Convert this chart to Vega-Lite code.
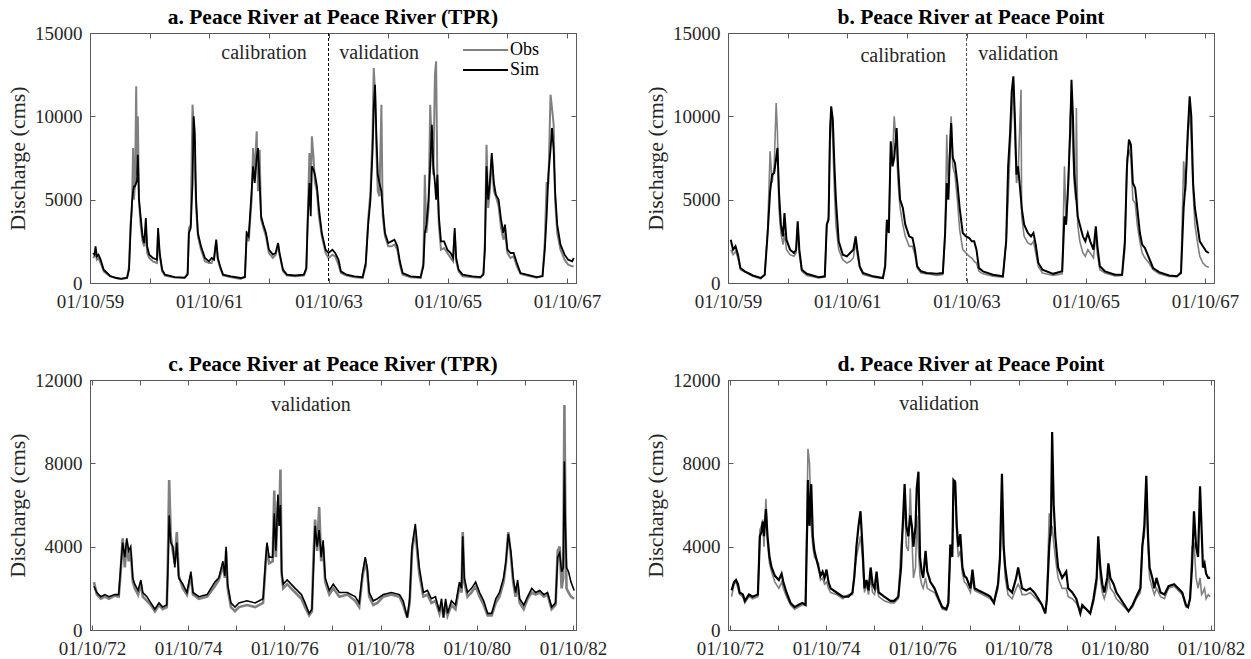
{
  "$schema": "https://vega.github.io/schema/vega-lite/v6.json",
  "background": "white",
  "padding": {"left": 6, "top": 6, "right": 5, "bottom": 5},
  "columns": 2,
  "spacing": {"row": 97, "column": 152},
  "bounds": "flush",
  "config": {
    "font": "Liberation Serif",
    "view": {"stroke": "#595959", "strokeWidth": 1},
    "axis": {
      "labelFont": "Liberation Serif", "labelFontSize": 19, "labelColor": "#262626",
      "titleFont": "Liberation Serif", "titleFontSize": 22, "titleFontWeight": "normal", "titleColor": "#262626",
      "grid": false, "domainColor": "#595959", "tickColor": "#595959", "tickSize": -5, "labelPadding": 13,
      "labelFlush": false, "labelOverlap": false, "labelBound": false, "titlePadding": 5
    },
    "axisBottom": {"labelPadding": 14},
    "title": {"font": "Liberation Serif", "fontSize": 21.5, "fontWeight": "bold", "color": "#000000", "offset": -4},
    "legend": {
      "orient": "none", "title": null, "symbolType": "M-1,0H8", "symbolSize": 100, "symbolStrokeWidth": 2,
      "labelFont": "Liberation Serif", "labelFontSize": 18, "labelColor": "#000000", "rowPadding": 2, "labelOffset": 33, "padding": 0
    }
  },
  "datasets": {
    "a": [
      {"d": "1959-10-20", "Obs": 1500, "Sim": 1800},
      {"d": "1959-10-28", "Obs": 1600, "Sim": 1700},
      {"d": "1959-11-04", "Obs": 1900, "Sim": 2200},
      {"d": "1959-11-12", "Obs": 1400, "Sim": 1600},
      {"d": "1959-11-22", "Obs": 1500, "Sim": 1700},
      {"d": "1959-12-05", "Obs": 1200, "Sim": 1400},
      {"d": "1959-12-24", "Obs": 700, "Sim": 800},
      {"d": "1960-02-01", "Obs": 400, "Sim": 420},
      {"d": "1960-03-10", "Obs": 300, "Sim": 300},
      {"d": "1960-04-09", "Obs": 250, "Sim": 250},
      {"d": "1960-05-15", "Obs": 300, "Sim": 320},
      {"d": "1960-05-27", "Obs": 1000, "Sim": 800},
      {"d": "1960-06-05", "Obs": 3500, "Sim": 3000},
      {"d": "1960-06-14", "Obs": 4500, "Sim": 4800},
      {"d": "1960-06-21", "Obs": 8100, "Sim": 5500},
      {"d": "1960-06-26", "Obs": 5000, "Sim": 5800},
      {"d": "1960-07-03", "Obs": 6000, "Sim": 5800},
      {"d": "1960-07-10", "Obs": 11800, "Sim": 6000},
      {"d": "1960-07-15", "Obs": 6500, "Sim": 6200},
      {"d": "1960-07-20", "Obs": 10000, "Sim": 7700},
      {"d": "1960-07-27", "Obs": 5000, "Sim": 5000},
      {"d": "1960-08-06", "Obs": 3500, "Sim": 4000},
      {"d": "1960-08-18", "Obs": 2500, "Sim": 2800},
      {"d": "1960-08-28", "Obs": 2200, "Sim": 2400},
      {"d": "1960-09-07", "Obs": 3200, "Sim": 3900},
      {"d": "1960-09-15", "Obs": 1800, "Sim": 2200},
      {"d": "1960-09-28", "Obs": 1500, "Sim": 1700},
      {"d": "1960-10-20", "Obs": 1300, "Sim": 1500},
      {"d": "1960-11-14", "Obs": 1200, "Sim": 1400},
      {"d": "1960-11-21", "Obs": 3000, "Sim": 3300},
      {"d": "1960-12-01", "Obs": 1600, "Sim": 1800},
      {"d": "1960-12-16", "Obs": 700, "Sim": 800},
      {"d": "1961-01-02", "Obs": 450, "Sim": 500},
      {"d": "1961-03-03", "Obs": 330, "Sim": 350},
      {"d": "1961-05-03", "Obs": 300, "Sim": 320},
      {"d": "1961-05-21", "Obs": 600, "Sim": 500},
      {"d": "1961-05-29", "Obs": 3300, "Sim": 3000},
      {"d": "1961-06-09", "Obs": 3500, "Sim": 3300},
      {"d": "1961-06-20", "Obs": 10700, "Sim": 6000},
      {"d": "1961-06-27", "Obs": 9500, "Sim": 10000},
      {"d": "1961-07-04", "Obs": 7000, "Sim": 9000},
      {"d": "1961-07-12", "Obs": 4500, "Sim": 5000},
      {"d": "1961-07-23", "Obs": 2800, "Sim": 3000},
      {"d": "1961-08-11", "Obs": 2000, "Sim": 2200},
      {"d": "1961-09-04", "Obs": 1300, "Sim": 1500},
      {"d": "1961-09-29", "Obs": 1200, "Sim": 1300},
      {"d": "1961-10-15", "Obs": 1200, "Sim": 1500},
      {"d": "1961-10-30", "Obs": 1600, "Sim": 1400},
      {"d": "1961-11-12", "Obs": 2500, "Sim": 2600},
      {"d": "1961-11-22", "Obs": 1400, "Sim": 1500},
      {"d": "1961-12-06", "Obs": 900, "Sim": 1000},
      {"d": "1961-12-24", "Obs": 450, "Sim": 500},
      {"d": "1962-02-10", "Obs": 350, "Sim": 400},
      {"d": "1962-04-12", "Obs": 250, "Sim": 300},
      {"d": "1962-05-07", "Obs": 400, "Sim": 350},
      {"d": "1962-05-18", "Obs": 3100, "Sim": 3000},
      {"d": "1962-05-30", "Obs": 2500, "Sim": 2800},
      {"d": "1962-06-17", "Obs": 5000, "Sim": 5500},
      {"d": "1962-06-26", "Obs": 8100, "Sim": 7000},
      {"d": "1962-07-06", "Obs": 6500, "Sim": 6000},
      {"d": "1962-07-18", "Obs": 9100, "Sim": 7500},
      {"d": "1962-07-26", "Obs": 5500, "Sim": 8100},
      {"d": "1962-08-05", "Obs": 8000, "Sim": 6000},
      {"d": "1962-08-14", "Obs": 3800, "Sim": 4000},
      {"d": "1962-08-28", "Obs": 3300, "Sim": 3500},
      {"d": "1962-09-13", "Obs": 2800, "Sim": 3000},
      {"d": "1962-10-01", "Obs": 1800, "Sim": 2000},
      {"d": "1962-10-25", "Obs": 1500, "Sim": 1700},
      {"d": "1962-11-11", "Obs": 1700, "Sim": 1800},
      {"d": "1962-11-26", "Obs": 2300, "Sim": 2400},
      {"d": "1962-12-05", "Obs": 1700, "Sim": 1800},
      {"d": "1962-12-26", "Obs": 700, "Sim": 800},
      {"d": "1963-01-19", "Obs": 450, "Sim": 500},
      {"d": "1963-03-10", "Obs": 400, "Sim": 450},
      {"d": "1963-05-03", "Obs": 450, "Sim": 500},
      {"d": "1963-05-18", "Obs": 800, "Sim": 900},
      {"d": "1963-05-27", "Obs": 4000, "Sim": 3800},
      {"d": "1963-06-06", "Obs": 7800, "Sim": 6000},
      {"d": "1963-06-14", "Obs": 5000, "Sim": 4000},
      {"d": "1963-06-21", "Obs": 8800, "Sim": 7000},
      {"d": "1963-07-01", "Obs": 7600, "Sim": 6800},
      {"d": "1963-07-10", "Obs": 6000, "Sim": 6500},
      {"d": "1963-07-22", "Obs": 5500, "Sim": 5800},
      {"d": "1963-08-03", "Obs": 4000, "Sim": 4500},
      {"d": "1963-08-21", "Obs": 2800, "Sim": 3000},
      {"d": "1963-09-13", "Obs": 1800, "Sim": 2000},
      {"d": "1963-10-01", "Obs": 1500, "Sim": 1800},
      {"d": "1963-10-25", "Obs": 1700, "Sim": 2000},
      {"d": "1963-11-11", "Obs": 1600, "Sim": 1800},
      {"d": "1963-12-01", "Obs": 1100, "Sim": 1400},
      {"d": "1963-12-16", "Obs": 600, "Sim": 700},
      {"d": "1964-01-19", "Obs": 450, "Sim": 500},
      {"d": "1964-03-08", "Obs": 350, "Sim": 400},
      {"d": "1964-04-27", "Obs": 300, "Sim": 350},
      {"d": "1964-05-16", "Obs": 1000, "Sim": 1200},
      {"d": "1964-05-31", "Obs": 3800, "Sim": 3500},
      {"d": "1964-06-14", "Obs": 5500, "Sim": 5000},
      {"d": "1964-06-27", "Obs": 9000, "Sim": 8000},
      {"d": "1964-07-04", "Obs": 12900, "Sim": 10500},
      {"d": "1964-07-12", "Obs": 11500, "Sim": 11900},
      {"d": "1964-07-20", "Obs": 8000, "Sim": 9000},
      {"d": "1964-07-29", "Obs": 5500, "Sim": 6500},
      {"d": "1964-08-08", "Obs": 5200, "Sim": 6000},
      {"d": "1964-08-20", "Obs": 10700, "Sim": 5500},
      {"d": "1964-08-28", "Obs": 4000, "Sim": 4500},
      {"d": "1964-09-11", "Obs": 2800, "Sim": 3000},
      {"d": "1964-10-01", "Obs": 2200, "Sim": 2400},
      {"d": "1964-10-20", "Obs": 2200, "Sim": 2500},
      {"d": "1964-11-08", "Obs": 2300, "Sim": 2600},
      {"d": "1964-11-26", "Obs": 2000, "Sim": 2200},
      {"d": "1964-12-11", "Obs": 1100, "Sim": 1300},
      {"d": "1964-12-28", "Obs": 500, "Sim": 600},
      {"d": "1965-02-15", "Obs": 350, "Sim": 400},
      {"d": "1965-04-17", "Obs": 300, "Sim": 350},
      {"d": "1965-05-04", "Obs": 1200, "Sim": 1000},
      {"d": "1965-05-13", "Obs": 6500, "Sim": 3000},
      {"d": "1965-05-23", "Obs": 3000, "Sim": 3500},
      {"d": "1965-06-05", "Obs": 4500, "Sim": 5000},
      {"d": "1965-06-15", "Obs": 10700, "Sim": 7000},
      {"d": "1965-06-25", "Obs": 8000, "Sim": 9500},
      {"d": "1965-07-04", "Obs": 6500, "Sim": 7000},
      {"d": "1965-07-14", "Obs": 12500, "Sim": 6000},
      {"d": "1965-07-21", "Obs": 13300, "Sim": 5000},
      {"d": "1965-07-29", "Obs": 6000, "Sim": 6500},
      {"d": "1965-08-07", "Obs": 3500, "Sim": 4000},
      {"d": "1965-08-20", "Obs": 2000, "Sim": 2500},
      {"d": "1965-09-08", "Obs": 2100, "Sim": 2500},
      {"d": "1965-09-28", "Obs": 1800, "Sim": 2000},
      {"d": "1965-10-18", "Obs": 1500, "Sim": 1800},
      {"d": "1965-11-02", "Obs": 1300, "Sim": 1500},
      {"d": "1965-11-12", "Obs": 3000, "Sim": 3300},
      {"d": "1965-11-21", "Obs": 1300, "Sim": 1500},
      {"d": "1965-12-06", "Obs": 700, "Sim": 800},
      {"d": "1965-12-30", "Obs": 400, "Sim": 500},
      {"d": "1966-03-01", "Obs": 350, "Sim": 400},
      {"d": "1966-04-19", "Obs": 320, "Sim": 350},
      {"d": "1966-05-07", "Obs": 600, "Sim": 500},
      {"d": "1966-05-16", "Obs": 2500, "Sim": 2000},
      {"d": "1966-05-26", "Obs": 8300, "Sim": 7000},
      {"d": "1966-06-05", "Obs": 4500, "Sim": 5000},
      {"d": "1966-06-15", "Obs": 5500, "Sim": 6000},
      {"d": "1966-06-27", "Obs": 7500, "Sim": 7800},
      {"d": "1966-07-10", "Obs": 5500, "Sim": 6000},
      {"d": "1966-07-22", "Obs": 5200, "Sim": 5300},
      {"d": "1966-08-08", "Obs": 4600, "Sim": 5000},
      {"d": "1966-08-23", "Obs": 3300, "Sim": 3800},
      {"d": "1966-09-06", "Obs": 2600, "Sim": 3000},
      {"d": "1966-09-16", "Obs": 3000, "Sim": 3500},
      {"d": "1966-10-01", "Obs": 1800, "Sim": 2000},
      {"d": "1966-10-20", "Obs": 1500, "Sim": 1800},
      {"d": "1966-11-08", "Obs": 1600, "Sim": 1800},
      {"d": "1966-11-28", "Obs": 1000, "Sim": 1200},
      {"d": "1966-12-20", "Obs": 550, "Sim": 600},
      {"d": "1967-01-27", "Obs": 450, "Sim": 500},
      {"d": "1967-03-29", "Obs": 320, "Sim": 350},
      {"d": "1967-05-04", "Obs": 450, "Sim": 400},
      {"d": "1967-05-18", "Obs": 2500, "Sim": 2000},
      {"d": "1967-05-29", "Obs": 6000, "Sim": 4000},
      {"d": "1967-06-09", "Obs": 6000, "Sim": 6500},
      {"d": "1967-06-22", "Obs": 11300, "Sim": 8000},
      {"d": "1967-07-01", "Obs": 10500, "Sim": 9300},
      {"d": "1967-07-11", "Obs": 9500, "Sim": 8000},
      {"d": "1967-07-20", "Obs": 5000, "Sim": 5500},
      {"d": "1967-08-02", "Obs": 3000, "Sim": 3500},
      {"d": "1967-08-22", "Obs": 2000, "Sim": 2300},
      {"d": "1967-09-16", "Obs": 1400, "Sim": 1700},
      {"d": "1967-10-08", "Obs": 1100, "Sim": 1400},
      {"d": "1967-11-02", "Obs": 1000, "Sim": 1300},
      {"d": "1967-11-11", "Obs": 1000, "Sim": 1500}
    ],
    "b": [
      {"d": "1959-10-18", "Obs": 2000, "Sim": 2600},
      {"d": "1959-11-01", "Obs": 1700, "Sim": 2000},
      {"d": "1959-11-16", "Obs": 1900, "Sim": 2200},
      {"d": "1959-12-01", "Obs": 1500, "Sim": 1700},
      {"d": "1959-12-16", "Obs": 800, "Sim": 900},
      {"d": "1960-01-12", "Obs": 650, "Sim": 700},
      {"d": "1960-03-01", "Obs": 400, "Sim": 450},
      {"d": "1960-04-19", "Obs": 250, "Sim": 300},
      {"d": "1960-05-13", "Obs": 500, "Sim": 500},
      {"d": "1960-05-31", "Obs": 3200, "Sim": 3000},
      {"d": "1960-06-15", "Obs": 7900, "Sim": 5500},
      {"d": "1960-06-27", "Obs": 6000, "Sim": 6500},
      {"d": "1960-07-10", "Obs": 7000, "Sim": 6600},
      {"d": "1960-07-22", "Obs": 10800, "Sim": 7500},
      {"d": "1960-07-30", "Obs": 9000, "Sim": 8100},
      {"d": "1960-08-08", "Obs": 4500, "Sim": 5500},
      {"d": "1960-08-20", "Obs": 3000, "Sim": 3500},
      {"d": "1960-09-02", "Obs": 2300, "Sim": 2800},
      {"d": "1960-09-11", "Obs": 3000, "Sim": 4200},
      {"d": "1960-09-23", "Obs": 2000, "Sim": 2600},
      {"d": "1960-10-15", "Obs": 1700, "Sim": 2000},
      {"d": "1960-11-08", "Obs": 1600, "Sim": 1800},
      {"d": "1960-11-21", "Obs": 1800, "Sim": 2000},
      {"d": "1960-12-01", "Obs": 3500, "Sim": 3700},
      {"d": "1960-12-11", "Obs": 1700, "Sim": 2000},
      {"d": "1960-12-26", "Obs": 700, "Sim": 800},
      {"d": "1961-01-26", "Obs": 450, "Sim": 550},
      {"d": "1961-04-09", "Obs": 300, "Sim": 350},
      {"d": "1961-05-16", "Obs": 350, "Sim": 400},
      {"d": "1961-05-28", "Obs": 3500, "Sim": 3500},
      {"d": "1961-06-08", "Obs": 4000, "Sim": 3800},
      {"d": "1961-06-17", "Obs": 9500, "Sim": 9000},
      {"d": "1961-06-24", "Obs": 10000, "Sim": 10600},
      {"d": "1961-07-04", "Obs": 8500, "Sim": 9800},
      {"d": "1961-07-14", "Obs": 5500, "Sim": 7000},
      {"d": "1961-07-23", "Obs": 3500, "Sim": 5000},
      {"d": "1961-08-09", "Obs": 2000, "Sim": 2500},
      {"d": "1961-09-03", "Obs": 1400, "Sim": 1700},
      {"d": "1961-09-28", "Obs": 1200, "Sim": 1600},
      {"d": "1961-10-18", "Obs": 1300, "Sim": 1800},
      {"d": "1961-11-07", "Obs": 1500, "Sim": 2000},
      {"d": "1961-11-21", "Obs": 2500, "Sim": 2800},
      {"d": "1961-12-01", "Obs": 1700, "Sim": 2000},
      {"d": "1961-12-16", "Obs": 900, "Sim": 1000},
      {"d": "1962-01-05", "Obs": 500, "Sim": 600},
      {"d": "1962-03-08", "Obs": 350, "Sim": 400},
      {"d": "1962-05-07", "Obs": 280, "Sim": 300},
      {"d": "1962-05-21", "Obs": 1200, "Sim": 1000},
      {"d": "1962-05-31", "Obs": 3500, "Sim": 3800},
      {"d": "1962-06-12", "Obs": 3500, "Sim": 3000},
      {"d": "1962-06-24", "Obs": 8000, "Sim": 8500},
      {"d": "1962-07-05", "Obs": 7500, "Sim": 7000},
      {"d": "1962-07-15", "Obs": 10000, "Sim": 7500},
      {"d": "1962-07-30", "Obs": 8000, "Sim": 9300},
      {"d": "1962-08-08", "Obs": 6000, "Sim": 7000},
      {"d": "1962-08-20", "Obs": 4500, "Sim": 5000},
      {"d": "1962-09-06", "Obs": 3500, "Sim": 4500},
      {"d": "1962-09-21", "Obs": 2800, "Sim": 3500},
      {"d": "1962-10-15", "Obs": 2200, "Sim": 2800},
      {"d": "1962-11-04", "Obs": 2200, "Sim": 2700},
      {"d": "1962-11-19", "Obs": 1700, "Sim": 2000},
      {"d": "1962-12-03", "Obs": 900, "Sim": 1000},
      {"d": "1962-12-26", "Obs": 600, "Sim": 700},
      {"d": "1963-02-01", "Obs": 550, "Sim": 600},
      {"d": "1963-04-02", "Obs": 450, "Sim": 550},
      {"d": "1963-05-09", "Obs": 500, "Sim": 600},
      {"d": "1963-05-23", "Obs": 3000, "Sim": 3000},
      {"d": "1963-06-02", "Obs": 8900, "Sim": 6000},
      {"d": "1963-06-12", "Obs": 5500, "Sim": 5000},
      {"d": "1963-06-22", "Obs": 8500, "Sim": 8000},
      {"d": "1963-06-29", "Obs": 10000, "Sim": 9600},
      {"d": "1963-07-09", "Obs": 7000, "Sim": 7500},
      {"d": "1963-07-22", "Obs": 6500, "Sim": 7200},
      {"d": "1963-08-06", "Obs": 5000, "Sim": 6000},
      {"d": "1963-08-20", "Obs": 3200, "Sim": 4500},
      {"d": "1963-09-08", "Obs": 2000, "Sim": 3000},
      {"d": "1963-09-28", "Obs": 1800, "Sim": 2800},
      {"d": "1963-10-18", "Obs": 1600, "Sim": 2700},
      {"d": "1963-11-02", "Obs": 1500, "Sim": 2500},
      {"d": "1963-11-17", "Obs": 1300, "Sim": 2500},
      {"d": "1963-12-01", "Obs": 1200, "Sim": 2000},
      {"d": "1963-12-16", "Obs": 700, "Sim": 900},
      {"d": "1964-01-10", "Obs": 550, "Sim": 700},
      {"d": "1964-03-11", "Obs": 400, "Sim": 500},
      {"d": "1964-05-11", "Obs": 350, "Sim": 400},
      {"d": "1964-05-31", "Obs": 2500, "Sim": 2500},
      {"d": "1964-06-12", "Obs": 5000, "Sim": 7000},
      {"d": "1964-06-24", "Obs": 8000, "Sim": 9000},
      {"d": "1964-07-04", "Obs": 10000, "Sim": 11500},
      {"d": "1964-07-14", "Obs": 12000, "Sim": 12400},
      {"d": "1964-07-23", "Obs": 9000, "Sim": 10000},
      {"d": "1964-08-02", "Obs": 6000, "Sim": 6500},
      {"d": "1964-08-12", "Obs": 6500, "Sim": 7000},
      {"d": "1964-08-30", "Obs": 11600, "Sim": 5000},
      {"d": "1964-09-03", "Obs": 4000, "Sim": 4500},
      {"d": "1964-09-18", "Obs": 2800, "Sim": 3500},
      {"d": "1964-10-11", "Obs": 2400, "Sim": 3000},
      {"d": "1964-10-30", "Obs": 2300, "Sim": 2800},
      {"d": "1964-11-14", "Obs": 2500, "Sim": 3000},
      {"d": "1964-11-28", "Obs": 1800, "Sim": 2300},
      {"d": "1964-12-14", "Obs": 1000, "Sim": 1200},
      {"d": "1965-01-08", "Obs": 600, "Sim": 800},
      {"d": "1965-03-15", "Obs": 450, "Sim": 550},
      {"d": "1965-05-09", "Obs": 550, "Sim": 700},
      {"d": "1965-05-23", "Obs": 7000, "Sim": 4000},
      {"d": "1965-06-02", "Obs": 3500, "Sim": 3500},
      {"d": "1965-06-15", "Obs": 5500, "Sim": 6000},
      {"d": "1965-06-27", "Obs": 10000, "Sim": 9000},
      {"d": "1965-07-05", "Obs": 11000, "Sim": 12200},
      {"d": "1965-07-14", "Obs": 8000, "Sim": 10000},
      {"d": "1965-07-22", "Obs": 6000, "Sim": 6500},
      {"d": "1965-07-31", "Obs": 5000, "Sim": 5500},
      {"d": "1965-08-04", "Obs": 10500, "Sim": 5000},
      {"d": "1965-08-12", "Obs": 3500, "Sim": 4000},
      {"d": "1965-08-25", "Obs": 2500, "Sim": 3500},
      {"d": "1965-09-13", "Obs": 1800, "Sim": 2800},
      {"d": "1965-09-28", "Obs": 1600, "Sim": 2500},
      {"d": "1965-10-13", "Obs": 2000, "Sim": 3000},
      {"d": "1965-10-28", "Obs": 1800, "Sim": 2500},
      {"d": "1965-11-17", "Obs": 1500, "Sim": 2000},
      {"d": "1965-12-01", "Obs": 3000, "Sim": 3400},
      {"d": "1965-12-11", "Obs": 1700, "Sim": 2200},
      {"d": "1965-12-26", "Obs": 800, "Sim": 1000},
      {"d": "1966-01-26", "Obs": 600, "Sim": 700},
      {"d": "1966-03-29", "Obs": 420, "Sim": 500},
      {"d": "1966-05-11", "Obs": 450, "Sim": 500},
      {"d": "1966-05-28", "Obs": 2000, "Sim": 2500},
      {"d": "1966-06-10", "Obs": 7500, "Sim": 7000},
      {"d": "1966-06-22", "Obs": 8000, "Sim": 8600},
      {"d": "1966-07-04", "Obs": 7500, "Sim": 8300},
      {"d": "1966-07-16", "Obs": 5000, "Sim": 6000},
      {"d": "1966-07-30", "Obs": 4800, "Sim": 5700},
      {"d": "1966-08-12", "Obs": 3500, "Sim": 4500},
      {"d": "1966-08-28", "Obs": 2500, "Sim": 3000},
      {"d": "1966-09-11", "Obs": 1800, "Sim": 2300},
      {"d": "1966-09-28", "Obs": 1500, "Sim": 2100},
      {"d": "1966-10-23", "Obs": 1200, "Sim": 1500},
      {"d": "1966-11-17", "Obs": 800, "Sim": 900},
      {"d": "1966-12-24", "Obs": 550, "Sim": 650},
      {"d": "1967-02-23", "Obs": 400, "Sim": 450},
      {"d": "1967-04-12", "Obs": 380, "Sim": 400},
      {"d": "1967-05-07", "Obs": 700, "Sim": 600},
      {"d": "1967-05-23", "Obs": 7300, "Sim": 4500},
      {"d": "1967-06-04", "Obs": 5500, "Sim": 6000},
      {"d": "1967-06-17", "Obs": 8500, "Sim": 9000},
      {"d": "1967-06-29", "Obs": 10500, "Sim": 11200},
      {"d": "1967-07-09", "Obs": 8500, "Sim": 10000},
      {"d": "1967-07-20", "Obs": 5500, "Sim": 6000},
      {"d": "1967-07-31", "Obs": 3500, "Sim": 4500},
      {"d": "1967-08-15", "Obs": 2500, "Sim": 3500},
      {"d": "1967-08-30", "Obs": 1600, "Sim": 2500},
      {"d": "1967-09-18", "Obs": 1200, "Sim": 2200},
      {"d": "1967-10-08", "Obs": 1000, "Sim": 1900},
      {"d": "1967-10-25", "Obs": 950, "Sim": 1800}
    ],
    "c": [
      {"d": "1972-10-16", "Obs": 2300, "Sim": 2100},
      {"d": "1972-11-07", "Obs": 1700, "Sim": 1800},
      {"d": "1972-12-07", "Obs": 1500, "Sim": 1600},
      {"d": "1973-01-07", "Obs": 1600, "Sim": 1700},
      {"d": "1973-02-07", "Obs": 1500, "Sim": 1600},
      {"d": "1973-03-22", "Obs": 1650, "Sim": 1700},
      {"d": "1973-04-22", "Obs": 1600, "Sim": 1700},
      {"d": "1973-05-07", "Obs": 2800, "Sim": 3000},
      {"d": "1973-05-22", "Obs": 4400, "Sim": 4200},
      {"d": "1973-06-07", "Obs": 3000, "Sim": 3500},
      {"d": "1973-06-22", "Obs": 4200, "Sim": 4400},
      {"d": "1973-07-07", "Obs": 3300, "Sim": 3800},
      {"d": "1973-07-22", "Obs": 3800, "Sim": 4000},
      {"d": "1973-08-07", "Obs": 2300, "Sim": 2500},
      {"d": "1973-08-22", "Obs": 2000, "Sim": 2200},
      {"d": "1973-09-16", "Obs": 1700, "Sim": 1900},
      {"d": "1973-10-07", "Obs": 2200, "Sim": 2400},
      {"d": "1973-10-22", "Obs": 1600, "Sim": 1800},
      {"d": "1973-11-22", "Obs": 1400, "Sim": 1600},
      {"d": "1973-12-22", "Obs": 1200, "Sim": 1300},
      {"d": "1974-01-22", "Obs": 900, "Sim": 1000},
      {"d": "1974-02-22", "Obs": 1200, "Sim": 1300},
      {"d": "1974-03-22", "Obs": 1000, "Sim": 1100},
      {"d": "1974-04-22", "Obs": 1100, "Sim": 1200},
      {"d": "1974-05-01", "Obs": 3500, "Sim": 3000},
      {"d": "1974-05-10", "Obs": 7200, "Sim": 5500},
      {"d": "1974-05-22", "Obs": 4500, "Sim": 4200},
      {"d": "1974-06-07", "Obs": 3800, "Sim": 4000},
      {"d": "1974-06-22", "Obs": 3200, "Sim": 3000},
      {"d": "1974-07-07", "Obs": 4700, "Sim": 4200},
      {"d": "1974-07-22", "Obs": 2600, "Sim": 2500},
      {"d": "1974-08-22", "Obs": 2000, "Sim": 2200},
      {"d": "1974-09-22", "Obs": 1700, "Sim": 1800},
      {"d": "1974-10-22", "Obs": 2600, "Sim": 2800},
      {"d": "1974-11-07", "Obs": 1700, "Sim": 1800},
      {"d": "1974-12-22", "Obs": 1500, "Sim": 1600},
      {"d": "1975-02-22", "Obs": 1600, "Sim": 1700},
      {"d": "1975-04-22", "Obs": 2100, "Sim": 2300},
      {"d": "1975-05-22", "Obs": 2400, "Sim": 2500},
      {"d": "1975-06-22", "Obs": 3100, "Sim": 3300},
      {"d": "1975-07-07", "Obs": 2500, "Sim": 2600},
      {"d": "1975-07-16", "Obs": 3800, "Sim": 4000},
      {"d": "1975-07-28", "Obs": 2000, "Sim": 2200},
      {"d": "1975-08-22", "Obs": 1100, "Sim": 1300},
      {"d": "1975-09-22", "Obs": 900, "Sim": 1100},
      {"d": "1975-10-22", "Obs": 1100, "Sim": 1300},
      {"d": "1975-12-22", "Obs": 1200, "Sim": 1400},
      {"d": "1976-02-22", "Obs": 1100, "Sim": 1300},
      {"d": "1976-04-22", "Obs": 1300, "Sim": 1500},
      {"d": "1976-05-13", "Obs": 3300, "Sim": 3500},
      {"d": "1976-05-22", "Obs": 4000, "Sim": 4200},
      {"d": "1976-06-07", "Obs": 3200, "Sim": 3500},
      {"d": "1976-07-04", "Obs": 3300, "Sim": 3500},
      {"d": "1976-07-16", "Obs": 6700, "Sim": 5600},
      {"d": "1976-07-28", "Obs": 3500, "Sim": 3800},
      {"d": "1976-08-13", "Obs": 6200, "Sim": 6500},
      {"d": "1976-08-22", "Obs": 5000, "Sim": 5000},
      {"d": "1976-09-01", "Obs": 7700, "Sim": 6000},
      {"d": "1976-09-10", "Obs": 2700, "Sim": 2800},
      {"d": "1976-09-22", "Obs": 2000, "Sim": 2200},
      {"d": "1976-10-22", "Obs": 2200, "Sim": 2400},
      {"d": "1976-12-22", "Obs": 1800, "Sim": 2000},
      {"d": "1977-02-07", "Obs": 1500, "Sim": 1700},
      {"d": "1977-03-07", "Obs": 1100, "Sim": 1300},
      {"d": "1977-04-07", "Obs": 700, "Sim": 800},
      {"d": "1977-04-28", "Obs": 900, "Sim": 1000},
      {"d": "1977-05-10", "Obs": 3500, "Sim": 3000},
      {"d": "1977-05-22", "Obs": 5300, "Sim": 5000},
      {"d": "1977-06-07", "Obs": 3800, "Sim": 4000},
      {"d": "1977-06-22", "Obs": 5900, "Sim": 4800},
      {"d": "1977-07-07", "Obs": 3300, "Sim": 3500},
      {"d": "1977-07-22", "Obs": 4000, "Sim": 4300},
      {"d": "1977-08-07", "Obs": 2300, "Sim": 2500},
      {"d": "1977-09-07", "Obs": 1700, "Sim": 1900},
      {"d": "1977-10-07", "Obs": 2000, "Sim": 2200},
      {"d": "1977-11-22", "Obs": 1600, "Sim": 1800},
      {"d": "1978-01-22", "Obs": 1700, "Sim": 1800},
      {"d": "1978-03-22", "Obs": 1400, "Sim": 1600},
      {"d": "1978-04-22", "Obs": 1100, "Sim": 1300},
      {"d": "1978-05-16", "Obs": 2500, "Sim": 2700},
      {"d": "1978-06-07", "Obs": 3300, "Sim": 3500},
      {"d": "1978-06-22", "Obs": 2800, "Sim": 3000},
      {"d": "1978-07-07", "Obs": 1600, "Sim": 1800},
      {"d": "1978-08-07", "Obs": 1200, "Sim": 1400},
      {"d": "1978-09-07", "Obs": 1300, "Sim": 1500},
      {"d": "1978-10-22", "Obs": 1600, "Sim": 1700},
      {"d": "1978-12-22", "Obs": 1700, "Sim": 1800},
      {"d": "1979-02-22", "Obs": 1600, "Sim": 1700},
      {"d": "1979-03-22", "Obs": 1200, "Sim": 1400},
      {"d": "1979-04-22", "Obs": 600, "Sim": 600},
      {"d": "1979-05-10", "Obs": 1300, "Sim": 1500},
      {"d": "1979-05-28", "Obs": 3800, "Sim": 4000},
      {"d": "1979-06-22", "Obs": 4800, "Sim": 5100},
      {"d": "1979-07-07", "Obs": 3700, "Sim": 4000},
      {"d": "1979-07-22", "Obs": 2700, "Sim": 3000},
      {"d": "1979-08-22", "Obs": 1600, "Sim": 1800},
      {"d": "1979-09-22", "Obs": 1700, "Sim": 1900},
      {"d": "1979-10-22", "Obs": 1300, "Sim": 1500},
      {"d": "1979-11-22", "Obs": 1400, "Sim": 1600},
      {"d": "1979-12-22", "Obs": 800, "Sim": 900},
      {"d": "1980-01-07", "Obs": 1300, "Sim": 1500},
      {"d": "1980-01-22", "Obs": 600, "Sim": 600},
      {"d": "1980-02-07", "Obs": 1300, "Sim": 1500},
      {"d": "1980-02-22", "Obs": 700, "Sim": 800},
      {"d": "1980-03-22", "Obs": 1200, "Sim": 1400},
      {"d": "1980-04-22", "Obs": 1000, "Sim": 1200},
      {"d": "1980-05-22", "Obs": 2100, "Sim": 2300},
      {"d": "1980-06-07", "Obs": 1800, "Sim": 2000},
      {"d": "1980-06-16", "Obs": 4700, "Sim": 4500},
      {"d": "1980-06-28", "Obs": 2300, "Sim": 2500},
      {"d": "1980-07-22", "Obs": 1600, "Sim": 1800},
      {"d": "1980-08-22", "Obs": 1800, "Sim": 2000},
      {"d": "1980-09-22", "Obs": 2100, "Sim": 2300},
      {"d": "1980-10-22", "Obs": 1600, "Sim": 1800},
      {"d": "1980-11-22", "Obs": 1200, "Sim": 1400},
      {"d": "1980-12-22", "Obs": 700, "Sim": 800},
      {"d": "1981-01-22", "Obs": 700, "Sim": 800},
      {"d": "1981-02-22", "Obs": 1300, "Sim": 1500},
      {"d": "1981-03-22", "Obs": 1600, "Sim": 1800},
      {"d": "1981-04-22", "Obs": 2300, "Sim": 2500},
      {"d": "1981-05-10", "Obs": 3200, "Sim": 3300},
      {"d": "1981-05-28", "Obs": 4700, "Sim": 4600},
      {"d": "1981-06-16", "Obs": 3600, "Sim": 3800},
      {"d": "1981-07-04", "Obs": 2300, "Sim": 2500},
      {"d": "1981-07-22", "Obs": 1600, "Sim": 1800},
      {"d": "1981-08-07", "Obs": 2200, "Sim": 2400},
      {"d": "1981-08-22", "Obs": 1300, "Sim": 1500},
      {"d": "1981-09-22", "Obs": 1000, "Sim": 1200},
      {"d": "1981-10-22", "Obs": 1500, "Sim": 1600},
      {"d": "1981-11-22", "Obs": 1800, "Sim": 2000},
      {"d": "1981-12-22", "Obs": 1700, "Sim": 1800},
      {"d": "1982-01-22", "Obs": 1800, "Sim": 1900},
      {"d": "1982-02-22", "Obs": 1600, "Sim": 1700},
      {"d": "1982-03-22", "Obs": 1700, "Sim": 1800},
      {"d": "1982-04-22", "Obs": 1000, "Sim": 1100},
      {"d": "1982-05-22", "Obs": 1200, "Sim": 1300},
      {"d": "1982-06-07", "Obs": 3800, "Sim": 3500},
      {"d": "1982-06-22", "Obs": 4000, "Sim": 3700},
      {"d": "1982-07-07", "Obs": 2000, "Sim": 2800},
      {"d": "1982-07-19", "Obs": 2500, "Sim": 3000},
      {"d": "1982-07-28", "Obs": 10800, "Sim": 8100},
      {"d": "1982-08-04", "Obs": 5700, "Sim": 5000},
      {"d": "1982-08-13", "Obs": 2000, "Sim": 3000},
      {"d": "1982-08-28", "Obs": 1800, "Sim": 2800},
      {"d": "1982-09-16", "Obs": 1600, "Sim": 2300},
      {"d": "1982-10-10", "Obs": 1500, "Sim": 1900}
    ],
    "d": [
      {"d": "1972-10-13", "Obs": 1600, "Sim": 1900},
      {"d": "1972-11-01", "Obs": 2200, "Sim": 2300},
      {"d": "1972-11-16", "Obs": 2300, "Sim": 2400},
      {"d": "1972-12-01", "Obs": 2000, "Sim": 2200},
      {"d": "1972-12-13", "Obs": 1700, "Sim": 1800},
      {"d": "1973-01-07", "Obs": 1600, "Sim": 1700},
      {"d": "1973-01-22", "Obs": 1300, "Sim": 1400},
      {"d": "1973-02-22", "Obs": 1600, "Sim": 1700},
      {"d": "1973-03-22", "Obs": 1500, "Sim": 1600},
      {"d": "1973-05-01", "Obs": 1600, "Sim": 1700},
      {"d": "1973-05-16", "Obs": 4800, "Sim": 4500},
      {"d": "1973-05-28", "Obs": 5000, "Sim": 4700},
      {"d": "1973-06-07", "Obs": 5300, "Sim": 5200},
      {"d": "1973-06-16", "Obs": 4000, "Sim": 4500},
      {"d": "1973-07-01", "Obs": 6300, "Sim": 5800},
      {"d": "1973-07-13", "Obs": 4200, "Sim": 4500},
      {"d": "1973-07-28", "Obs": 3200, "Sim": 3500},
      {"d": "1973-08-13", "Obs": 2800, "Sim": 3000},
      {"d": "1973-09-07", "Obs": 2300, "Sim": 2600},
      {"d": "1973-10-07", "Obs": 2000, "Sim": 2400},
      {"d": "1973-10-28", "Obs": 2300, "Sim": 2700},
      {"d": "1973-11-10", "Obs": 2000, "Sim": 2300},
      {"d": "1973-12-04", "Obs": 1600, "Sim": 1800},
      {"d": "1974-01-04", "Obs": 1200, "Sim": 1300},
      {"d": "1974-02-04", "Obs": 1000, "Sim": 1100},
      {"d": "1974-03-04", "Obs": 1100, "Sim": 1200},
      {"d": "1974-04-04", "Obs": 1200, "Sim": 1300},
      {"d": "1974-04-28", "Obs": 1200, "Sim": 1200},
      {"d": "1974-05-10", "Obs": 6000, "Sim": 5000},
      {"d": "1974-05-16", "Obs": 8700, "Sim": 7200},
      {"d": "1974-05-28", "Obs": 8000, "Sim": 5000},
      {"d": "1974-06-10", "Obs": 5000, "Sim": 7000},
      {"d": "1974-06-22", "Obs": 4000, "Sim": 4500},
      {"d": "1974-07-04", "Obs": 3500, "Sim": 3800},
      {"d": "1974-08-04", "Obs": 3200, "Sim": 3000},
      {"d": "1974-08-19", "Obs": 2400, "Sim": 2600},
      {"d": "1974-09-04", "Obs": 2500, "Sim": 2800},
      {"d": "1974-09-19", "Obs": 2200, "Sim": 2500},
      {"d": "1974-10-04", "Obs": 2300, "Sim": 2900},
      {"d": "1974-10-19", "Obs": 2000, "Sim": 2300},
      {"d": "1974-11-04", "Obs": 1800, "Sim": 2000},
      {"d": "1974-12-19", "Obs": 1700, "Sim": 1800},
      {"d": "1975-02-04", "Obs": 1500, "Sim": 1600},
      {"d": "1975-03-19", "Obs": 1700, "Sim": 1600},
      {"d": "1975-04-19", "Obs": 1700, "Sim": 1800},
      {"d": "1975-05-04", "Obs": 2800, "Sim": 2600},
      {"d": "1975-05-19", "Obs": 3500, "Sim": 4000},
      {"d": "1975-06-04", "Obs": 4000, "Sim": 5000},
      {"d": "1975-06-19", "Obs": 4500, "Sim": 5700},
      {"d": "1975-07-04", "Obs": 3500, "Sim": 4000},
      {"d": "1975-07-19", "Obs": 1800, "Sim": 2000},
      {"d": "1975-08-04", "Obs": 2200, "Sim": 2400},
      {"d": "1975-08-19", "Obs": 1700, "Sim": 1900},
      {"d": "1975-09-04", "Obs": 2500, "Sim": 3000},
      {"d": "1975-09-19", "Obs": 1800, "Sim": 2200},
      {"d": "1975-10-04", "Obs": 1700, "Sim": 2000},
      {"d": "1975-10-19", "Obs": 2200, "Sim": 2800},
      {"d": "1975-11-04", "Obs": 1600, "Sim": 1800},
      {"d": "1975-12-16", "Obs": 1400, "Sim": 1600},
      {"d": "1976-02-01", "Obs": 1300, "Sim": 1400},
      {"d": "1976-03-01", "Obs": 1300, "Sim": 1400},
      {"d": "1976-04-01", "Obs": 1500, "Sim": 1600},
      {"d": "1976-04-22", "Obs": 4000, "Sim": 3000},
      {"d": "1976-05-01", "Obs": 4600, "Sim": 4500},
      {"d": "1976-05-19", "Obs": 6000, "Sim": 7000},
      {"d": "1976-06-01", "Obs": 4000, "Sim": 5000},
      {"d": "1976-06-16", "Obs": 3800, "Sim": 4500},
      {"d": "1976-07-01", "Obs": 6800, "Sim": 5500},
      {"d": "1976-07-13", "Obs": 4500, "Sim": 5000},
      {"d": "1976-07-25", "Obs": 2500, "Sim": 4000},
      {"d": "1976-08-10", "Obs": 3000, "Sim": 5000},
      {"d": "1976-08-19", "Obs": 5500, "Sim": 6800},
      {"d": "1976-09-01", "Obs": 3800, "Sim": 7600},
      {"d": "1976-09-13", "Obs": 2600, "Sim": 3500},
      {"d": "1976-09-25", "Obs": 2200, "Sim": 2800},
      {"d": "1976-10-07", "Obs": 2000, "Sim": 2500},
      {"d": "1976-10-25", "Obs": 2500, "Sim": 3800},
      {"d": "1976-11-07", "Obs": 2000, "Sim": 2800},
      {"d": "1976-12-01", "Obs": 1900, "Sim": 2300},
      {"d": "1977-01-01", "Obs": 1800, "Sim": 2000},
      {"d": "1977-02-01", "Obs": 1400, "Sim": 1500},
      {"d": "1977-03-01", "Obs": 1000, "Sim": 1100},
      {"d": "1977-04-01", "Obs": 950, "Sim": 1000},
      {"d": "1977-04-16", "Obs": 1200, "Sim": 1300},
      {"d": "1977-05-01", "Obs": 3500, "Sim": 4100},
      {"d": "1977-05-16", "Obs": 3800, "Sim": 3500},
      {"d": "1977-05-25", "Obs": 6500, "Sim": 7200},
      {"d": "1977-06-07", "Obs": 7200, "Sim": 7100},
      {"d": "1977-06-19", "Obs": 4500, "Sim": 5000},
      {"d": "1977-07-01", "Obs": 3500, "Sim": 4000},
      {"d": "1977-07-16", "Obs": 3800, "Sim": 4600},
      {"d": "1977-08-01", "Obs": 2700, "Sim": 3000},
      {"d": "1977-08-16", "Obs": 2300, "Sim": 2600},
      {"d": "1977-09-01", "Obs": 2200, "Sim": 2500},
      {"d": "1977-10-01", "Obs": 1800, "Sim": 2000},
      {"d": "1977-10-16", "Obs": 2500, "Sim": 2900},
      {"d": "1977-11-01", "Obs": 1900, "Sim": 2000},
      {"d": "1977-12-01", "Obs": 1800, "Sim": 1900},
      {"d": "1978-01-01", "Obs": 1700, "Sim": 1800},
      {"d": "1978-02-01", "Obs": 1600, "Sim": 1700},
      {"d": "1978-02-28", "Obs": 1500, "Sim": 1600},
      {"d": "1978-03-28", "Obs": 1300, "Sim": 1300},
      {"d": "1978-04-28", "Obs": 2000, "Sim": 2200},
      {"d": "1978-05-13", "Obs": 3300, "Sim": 3500},
      {"d": "1978-05-28", "Obs": 6000, "Sim": 7500},
      {"d": "1978-06-10", "Obs": 3800, "Sim": 4000},
      {"d": "1978-06-22", "Obs": 2500, "Sim": 3000},
      {"d": "1978-07-13", "Obs": 1700, "Sim": 2000},
      {"d": "1978-08-13", "Obs": 1500, "Sim": 1800},
      {"d": "1978-09-13", "Obs": 2000, "Sim": 2500},
      {"d": "1978-09-28", "Obs": 2200, "Sim": 3000},
      {"d": "1978-10-13", "Obs": 2000, "Sim": 2500},
      {"d": "1978-10-28", "Obs": 1700, "Sim": 2000},
      {"d": "1978-11-28", "Obs": 1700, "Sim": 1900},
      {"d": "1978-12-28", "Obs": 1800, "Sim": 2000},
      {"d": "1979-01-28", "Obs": 1600, "Sim": 1800},
      {"d": "1979-02-28", "Obs": 1400, "Sim": 1500},
      {"d": "1979-03-28", "Obs": 1200, "Sim": 1200},
      {"d": "1979-04-22", "Obs": 800, "Sim": 800},
      {"d": "1979-05-04", "Obs": 1400, "Sim": 1500},
      {"d": "1979-05-22", "Obs": 5600, "Sim": 4000},
      {"d": "1979-06-04", "Obs": 4500, "Sim": 5000},
      {"d": "1979-06-13", "Obs": 5000, "Sim": 9500},
      {"d": "1979-06-25", "Obs": 4200, "Sim": 6000},
      {"d": "1979-07-07", "Obs": 3500, "Sim": 4500},
      {"d": "1979-07-28", "Obs": 2500, "Sim": 3000},
      {"d": "1979-08-28", "Obs": 2000, "Sim": 2500},
      {"d": "1979-09-28", "Obs": 2000, "Sim": 2800},
      {"d": "1979-10-13", "Obs": 1600, "Sim": 2000},
      {"d": "1979-11-13", "Obs": 1500, "Sim": 1800},
      {"d": "1979-12-13", "Obs": 1300, "Sim": 1500},
      {"d": "1980-01-13", "Obs": 900, "Sim": 800},
      {"d": "1980-01-28", "Obs": 1100, "Sim": 1200},
      {"d": "1980-02-28", "Obs": 1000, "Sim": 1000},
      {"d": "1980-03-28", "Obs": 800, "Sim": 800},
      {"d": "1980-04-22", "Obs": 1300, "Sim": 1500},
      {"d": "1980-05-16", "Obs": 2200, "Sim": 2500},
      {"d": "1980-05-28", "Obs": 4000, "Sim": 4500},
      {"d": "1980-06-13", "Obs": 2500, "Sim": 3000},
      {"d": "1980-06-28", "Obs": 1800, "Sim": 2200},
      {"d": "1980-07-13", "Obs": 1500, "Sim": 1800},
      {"d": "1980-08-04", "Obs": 2000, "Sim": 2500},
      {"d": "1980-08-13", "Obs": 2700, "Sim": 3200},
      {"d": "1980-08-28", "Obs": 2000, "Sim": 2500},
      {"d": "1980-09-22", "Obs": 1800, "Sim": 2200},
      {"d": "1980-10-13", "Obs": 1500, "Sim": 1800},
      {"d": "1980-11-13", "Obs": 1300, "Sim": 1500},
      {"d": "1980-12-13", "Obs": 1100, "Sim": 1200},
      {"d": "1981-01-13", "Obs": 900, "Sim": 900},
      {"d": "1981-02-13", "Obs": 1100, "Sim": 1200},
      {"d": "1981-03-13", "Obs": 1500, "Sim": 1600},
      {"d": "1981-04-13", "Obs": 1800, "Sim": 2000},
      {"d": "1981-04-28", "Obs": 4100, "Sim": 4000},
      {"d": "1981-05-13", "Obs": 4500, "Sim": 5000},
      {"d": "1981-05-28", "Obs": 7000, "Sim": 7400},
      {"d": "1981-06-10", "Obs": 4000, "Sim": 4500},
      {"d": "1981-06-22", "Obs": 2500, "Sim": 3000},
      {"d": "1981-07-13", "Obs": 2000, "Sim": 2500},
      {"d": "1981-07-28", "Obs": 1700, "Sim": 2000},
      {"d": "1981-08-13", "Obs": 2000, "Sim": 2500},
      {"d": "1981-09-13", "Obs": 1600, "Sim": 1800},
      {"d": "1981-10-13", "Obs": 1500, "Sim": 1700},
      {"d": "1981-11-13", "Obs": 2000, "Sim": 2100},
      {"d": "1981-12-25", "Obs": 2100, "Sim": 2200},
      {"d": "1982-01-25", "Obs": 1900, "Sim": 2000},
      {"d": "1982-02-25", "Obs": 1700, "Sim": 1800},
      {"d": "1982-03-25", "Obs": 1100, "Sim": 1200},
      {"d": "1982-04-10", "Obs": 1100, "Sim": 1100},
      {"d": "1982-04-25", "Obs": 1500, "Sim": 1500},
      {"d": "1982-05-10", "Obs": 4000, "Sim": 3000},
      {"d": "1982-05-25", "Obs": 4200, "Sim": 5700},
      {"d": "1982-06-10", "Obs": 2500, "Sim": 4000},
      {"d": "1982-06-25", "Obs": 2000, "Sim": 3500},
      {"d": "1982-07-10", "Obs": 2500, "Sim": 6900},
      {"d": "1982-07-22", "Obs": 1700, "Sim": 4800},
      {"d": "1982-08-01", "Obs": 1800, "Sim": 3000},
      {"d": "1982-08-13", "Obs": 2000, "Sim": 3200},
      {"d": "1982-08-25", "Obs": 1500, "Sim": 2700},
      {"d": "1982-09-10", "Obs": 1700, "Sim": 2500},
      {"d": "1982-09-25", "Obs": 1600, "Sim": 2500}
    ]
  },
  "concat": [
    {
      "width": 486, "height": 250,
      "title": "a. Peace River at Peace River (TPR)",
      "data": {"name": "a"},
      "resolve": {"axis": {"x": "independent", "y": "independent"}},
      "layer": [
        {
          "mark": {"type": "line", "strokeWidth": 2},
          "encoding": {
            "x": {"field": "d", "type": "temporal",
              "scale": {"type": "utc", "domain": [{"year": 1959, "month": 10, "date": 1, "utc": true}, {"year": 1967, "month": 11, "date": 25, "utc": true}]},
              "axis": {"orient": "bottom", "title": null,
                "values": [{"year": 1959, "month": 10, "date": 1, "utc": true}, {"year": 1960, "month": 10, "date": 1, "utc": true}, {"year": 1961, "month": 10, "date": 1, "utc": true}, {"year": 1962, "month": 10, "date": 1, "utc": true}, {"year": 1963, "month": 10, "date": 1, "utc": true}, {"year": 1964, "month": 10, "date": 1, "utc": true}, {"year": 1965, "month": 10, "date": 1, "utc": true}, {"year": 1966, "month": 10, "date": 1, "utc": true}, {"year": 1967, "month": 10, "date": 1, "utc": true}],
                "labelExpr": "utcyear(datum.value) % 2 == 1 ? utcFormat(datum.value, '%d/%m/%y') : ''"}},
            "y": {"field": "Obs", "type": "quantitative", "title": "Discharge (cms)",
              "scale": {"domain": [0, 15000], "nice": false},
              "axis": {"orient": "left", "values": [0, 5000, 10000, 15000], "format": "d"}},
            "color": {"datum": "Obs", "scale": {"domain": ["Obs", "Sim"], "range": ["#808080", "#000000"]},
              "legend": {"legendX": 369, "legendY": 8}}
          }
        },
        {
          "mark": {"type": "line", "strokeWidth": 1.8},
          "encoding": {
            "x": {"field": "d", "type": "temporal",
              "axis": {"orient": "top", "title": null, "labels": false,
                "values": [{"year": 1960, "month": 10, "date": 1, "utc": true}, {"year": 1961, "month": 10, "date": 1, "utc": true}, {"year": 1962, "month": 10, "date": 1, "utc": true}, {"year": 1963, "month": 10, "date": 1, "utc": true}, {"year": 1964, "month": 10, "date": 1, "utc": true}, {"year": 1965, "month": 10, "date": 1, "utc": true}, {"year": 1966, "month": 10, "date": 1, "utc": true}, {"year": 1967, "month": 10, "date": 1, "utc": true}]}},
            "y": {"field": "Sim", "type": "quantitative", "title": null,
              "axis": {"orient": "right", "labels": false, "values": [0, 5000, 10000, 15000]}},
            "color": {"datum": "Sim"}
          }
        },
        {
          "data": {"values": [{"d": "1963-10-01"}]},
          "mark": {"type": "rule", "color": "#000000", "strokeWidth": 1, "strokeDash": [3, 2]},
          "encoding": {"x": {"field": "d", "type": "temporal", "axis": null}}
        },
        {
          "data": {"values": [{"d": "1962-09-01", "q": 13800, "t": "calibration"}, {"d": "1964-08-06", "q": 13800, "t": "validation"}]},
          "mark": {"type": "text", "font": "Liberation Serif", "fontSize": 20, "color": "#262626"},
          "encoding": {
            "x": {"field": "d", "type": "temporal", "axis": null},
            "y": {"field": "q", "type": "quantitative", "axis": null},
            "text": {"field": "t"}
          }
        }
      ]
    },
    {
      "width": 486, "height": 250,
      "title": "b. Peace River at Peace Point",
      "data": {"name": "b"},
      "resolve": {"axis": {"x": "independent", "y": "independent"}},
      "layer": [
        {
          "mark": {"type": "line", "strokeWidth": 1.6},
          "encoding": {
            "x": {"field": "d", "type": "temporal",
              "scale": {"type": "utc", "domain": [{"year": 1959, "month": 10, "date": 1, "utc": true}, {"year": 1967, "month": 11, "date": 25, "utc": true}]},
              "axis": {"orient": "bottom", "title": null,
                "values": [{"year": 1959, "month": 10, "date": 1, "utc": true}, {"year": 1960, "month": 10, "date": 1, "utc": true}, {"year": 1961, "month": 10, "date": 1, "utc": true}, {"year": 1962, "month": 10, "date": 1, "utc": true}, {"year": 1963, "month": 10, "date": 1, "utc": true}, {"year": 1964, "month": 10, "date": 1, "utc": true}, {"year": 1965, "month": 10, "date": 1, "utc": true}, {"year": 1966, "month": 10, "date": 1, "utc": true}, {"year": 1967, "month": 10, "date": 1, "utc": true}],
                "labelExpr": "utcyear(datum.value) % 2 == 1 ? utcFormat(datum.value, '%d/%m/%y') : ''"}},
            "y": {"field": "Obs", "type": "quantitative", "title": "Discharge (cms)",
              "scale": {"domain": [0, 15000], "nice": false},
              "axis": {"orient": "left", "values": [0, 5000, 10000, 15000], "format": "d"}},
            "color": {"datum": "Obs", "scale": {"domain": ["Obs", "Sim"], "range": ["#808080", "#000000"]},
              "legend": {"legendX": 381, "legendY": 8}}
          }
        },
        {
          "mark": {"type": "line", "strokeWidth": 2},
          "encoding": {
            "x": {"field": "d", "type": "temporal",
              "axis": {"orient": "top", "title": null, "labels": false,
                "values": [{"year": 1960, "month": 10, "date": 1, "utc": true}, {"year": 1961, "month": 10, "date": 1, "utc": true}, {"year": 1962, "month": 10, "date": 1, "utc": true}, {"year": 1963, "month": 10, "date": 1, "utc": true}, {"year": 1964, "month": 10, "date": 1, "utc": true}, {"year": 1965, "month": 10, "date": 1, "utc": true}, {"year": 1966, "month": 10, "date": 1, "utc": true}, {"year": 1967, "month": 10, "date": 1, "utc": true}]}},
            "y": {"field": "Sim", "type": "quantitative", "title": null,
              "axis": {"orient": "right", "labels": false, "values": [0, 5000, 10000, 15000]}},
            "color": {"datum": "Sim"}
          }
        },
        {
          "data": {"values": [{"d": "1963-10-01"}]},
          "mark": {"type": "rule", "color": "#555555", "strokeWidth": 1, "strokeDash": [3, 2]},
          "encoding": {"x": {"field": "d", "type": "temporal", "axis": null}}
        },
        {
          "data": {"values": [{"d": "1962-09-08", "q": 13600, "t": "calibration"}, {"d": "1964-08-13", "q": 13750, "t": "validation"}]},
          "mark": {"type": "text", "font": "Liberation Serif", "fontSize": 20, "color": "#262626"},
          "encoding": {
            "x": {"field": "d", "type": "temporal", "axis": null},
            "y": {"field": "q", "type": "quantitative", "axis": null},
            "text": {"field": "t"}
          }
        }
      ]
    },
    {
      "width": 486, "height": 250,
      "title": "c. Peace River at Peace River (TPR)",
      "data": {"name": "c"},
      "resolve": {"axis": {"x": "independent", "y": "independent"}},
      "layer": [
        {
          "mark": {"type": "line", "strokeWidth": 2.6},
          "encoding": {
            "x": {"field": "d", "type": "temporal",
              "scale": {"type": "utc", "domain": [{"year": 1972, "month": 9, "date": 16, "utc": true}, {"year": 1982, "month": 10, "date": 24, "utc": true}]},
              "axis": {"orient": "bottom", "title": null,
                "values": [{"year": 1972, "month": 10, "date": 1, "utc": true}, {"year": 1973, "month": 10, "date": 1, "utc": true}, {"year": 1974, "month": 10, "date": 1, "utc": true}, {"year": 1975, "month": 10, "date": 1, "utc": true}, {"year": 1976, "month": 10, "date": 1, "utc": true}, {"year": 1977, "month": 10, "date": 1, "utc": true}, {"year": 1978, "month": 10, "date": 1, "utc": true}, {"year": 1979, "month": 10, "date": 1, "utc": true}, {"year": 1980, "month": 10, "date": 1, "utc": true}, {"year": 1981, "month": 10, "date": 1, "utc": true}, {"year": 1982, "month": 10, "date": 1, "utc": true}],
                "labelExpr": "utcyear(datum.value) % 2 == 0 ? utcFormat(datum.value, '%d/%m/%y') : ''"}},
            "y": {"field": "Obs", "type": "quantitative", "title": "Discharge (cms)",
              "scale": {"domain": [0, 12000], "nice": false},
              "axis": {"orient": "left", "values": [0, 4000, 8000, 12000], "format": "d"}},
            "color": {"datum": "Obs", "scale": {"domain": ["Obs", "Sim"], "range": ["#808080", "#000000"]},
              "legend": {"legendX": 363, "legendY": 10}}
          }
        },
        {
          "mark": {"type": "line", "strokeWidth": 1.6},
          "encoding": {
            "x": {"field": "d", "type": "temporal",
              "axis": {"orient": "top", "title": null, "labels": false,
                "values": [{"year": 1972, "month": 10, "date": 1, "utc": true}, {"year": 1973, "month": 10, "date": 1, "utc": true}, {"year": 1974, "month": 10, "date": 1, "utc": true}, {"year": 1975, "month": 10, "date": 1, "utc": true}, {"year": 1976, "month": 10, "date": 1, "utc": true}, {"year": 1977, "month": 10, "date": 1, "utc": true}, {"year": 1978, "month": 10, "date": 1, "utc": true}, {"year": 1979, "month": 10, "date": 1, "utc": true}, {"year": 1980, "month": 10, "date": 1, "utc": true}, {"year": 1981, "month": 10, "date": 1, "utc": true}, {"year": 1982, "month": 10, "date": 1, "utc": true}]}},
            "y": {"field": "Sim", "type": "quantitative", "title": null,
              "axis": {"orient": "right", "labels": false, "values": [0, 4000, 8000, 12000]}},
            "color": {"datum": "Sim"}
          }
        },
        {
          "data": {"values": [{"d": "1977-04-20", "q": 10800, "t": "validation"}]},
          "mark": {"type": "text", "font": "Liberation Serif", "fontSize": 20, "color": "#262626"},
          "encoding": {
            "x": {"field": "d", "type": "temporal", "axis": null},
            "y": {"field": "q", "type": "quantitative", "axis": null},
            "text": {"field": "t"}
          }
        }
      ]
    },
    {
      "width": 486, "height": 250,
      "title": "d. Peace River at Peace Point",
      "data": {"name": "d"},
      "resolve": {"axis": {"x": "independent", "y": "independent"}},
      "layer": [
        {
          "mark": {"type": "line", "strokeWidth": 1.6},
          "encoding": {
            "x": {"field": "d", "type": "temporal",
              "scale": {"type": "utc", "domain": [{"year": 1972, "month": 9, "date": 16, "utc": true}, {"year": 1982, "month": 10, "date": 24, "utc": true}]},
              "axis": {"orient": "bottom", "title": null,
                "values": [{"year": 1972, "month": 10, "date": 1, "utc": true}, {"year": 1973, "month": 10, "date": 1, "utc": true}, {"year": 1974, "month": 10, "date": 1, "utc": true}, {"year": 1975, "month": 10, "date": 1, "utc": true}, {"year": 1976, "month": 10, "date": 1, "utc": true}, {"year": 1977, "month": 10, "date": 1, "utc": true}, {"year": 1978, "month": 10, "date": 1, "utc": true}, {"year": 1979, "month": 10, "date": 1, "utc": true}, {"year": 1980, "month": 10, "date": 1, "utc": true}, {"year": 1981, "month": 10, "date": 1, "utc": true}, {"year": 1982, "month": 10, "date": 1, "utc": true}],
                "labelExpr": "utcyear(datum.value) % 2 == 0 ? utcFormat(datum.value, '%d/%m/%y') : ''"}},
            "y": {"field": "Obs", "type": "quantitative", "title": "Discharge (cms)",
              "scale": {"domain": [0, 12000], "nice": false},
              "axis": {"orient": "left", "values": [0, 4000, 8000, 12000], "format": "d"}},
            "color": {"datum": "Obs", "scale": {"domain": ["Obs", "Sim"], "range": ["#808080", "#000000"]},
              "legend": {"legendX": 379, "legendY": 8}}
          }
        },
        {
          "mark": {"type": "line", "strokeWidth": 2.2},
          "encoding": {
            "x": {"field": "d", "type": "temporal",
              "axis": {"orient": "top", "title": null, "labels": false,
                "values": [{"year": 1972, "month": 10, "date": 1, "utc": true}, {"year": 1973, "month": 10, "date": 1, "utc": true}, {"year": 1974, "month": 10, "date": 1, "utc": true}, {"year": 1975, "month": 10, "date": 1, "utc": true}, {"year": 1976, "month": 10, "date": 1, "utc": true}, {"year": 1977, "month": 10, "date": 1, "utc": true}, {"year": 1978, "month": 10, "date": 1, "utc": true}, {"year": 1979, "month": 10, "date": 1, "utc": true}, {"year": 1980, "month": 10, "date": 1, "utc": true}, {"year": 1981, "month": 10, "date": 1, "utc": true}, {"year": 1982, "month": 10, "date": 1, "utc": true}]}},
            "y": {"field": "Sim", "type": "quantitative", "title": null,
              "axis": {"orient": "right", "labels": false, "values": [0, 4000, 8000, 12000]}},
            "color": {"datum": "Sim"}
          }
        },
        {
          "data": {"values": [{"d": "1977-02-05", "q": 10850, "t": "validation"}]},
          "mark": {"type": "text", "font": "Liberation Serif", "fontSize": 20, "color": "#262626"},
          "encoding": {
            "x": {"field": "d", "type": "temporal", "axis": null},
            "y": {"field": "q", "type": "quantitative", "axis": null},
            "text": {"field": "t"}
          }
        }
      ]
    }
  ]
}
